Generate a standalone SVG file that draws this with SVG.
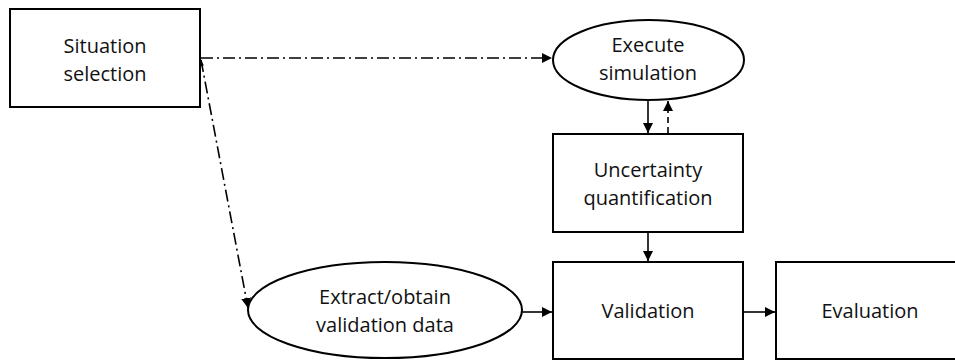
<svg xmlns="http://www.w3.org/2000/svg" width="955" height="361" viewBox="0 0 955 361">
<style>
.box{fill:#fff;stroke:#000;stroke-width:2}
.t{font-family:"Open Sans","Liberation Sans",sans-serif;font-size:20px;fill:#111;text-anchor:middle}
.c{fill:none;stroke:#000;stroke-width:1.6}
.dd{stroke-dasharray:12 4 2 4}
.ds{stroke-dasharray:6 4}
</style>
<defs>
<marker id="ah" viewBox="0 0 10 10" refX="10" refY="5" markerWidth="10" markerHeight="10" markerUnits="userSpaceOnUse" orient="auto">
<path d="M0,0 L10,5 L0,10 Z" fill="#000"/>
</marker>
<marker id="ahs" viewBox="0 0 10 10" refX="10" refY="5" markerWidth="12" markerHeight="6" markerUnits="userSpaceOnUse" orient="auto-start-reverse">
<path d="M0,2 L10,5 L0,8 Z" fill="#000"/>
</marker>
</defs>
<rect width="955" height="361" fill="#fff"/>
<g id="connectors">
<line class="c dd" x1="201" y1="58" x2="552" y2="58" marker-end="url(#ah)"/>
<line class="c dd" x1="201" y1="60" x2="248" y2="308" marker-end="url(#ah)" marker-start="url(#ahs)"/>
<line class="c" x1="648" y1="100" x2="648" y2="133" marker-end="url(#ah)"/>
<line class="c ds" x1="668" y1="133" x2="668" y2="101" marker-end="url(#ah)"/>
<line class="c" x1="648" y1="232" x2="648" y2="261" marker-end="url(#ah)"/>
<line class="c" x1="522" y1="312" x2="552" y2="312" marker-end="url(#ah)"/>
<line class="c" x1="743" y1="312" x2="775" y2="312" marker-end="url(#ah)"/>
</g>
<g id="situation">
<rect class="box" x="10" y="9" width="190" height="98"/>
<text class="t" x="105" y="53">Situation</text>
<text class="t" x="105" y="81">selection</text>
</g>
<g id="execute">
<ellipse class="box" cx="648.5" cy="60" rx="95.5" ry="40"/>
<text class="t" x="648" y="52">Execute</text>
<text class="t" x="648" y="80">simulation</text>
</g>
<g id="uncertainty">
<rect class="box" x="553" y="134" width="190" height="98"/>
<text class="t" x="648" y="177">Uncertainty</text>
<text class="t" x="648" y="205">quantification</text>
</g>
<g id="extract">
<ellipse class="box" cx="385" cy="310" rx="137" ry="48"/>
<text class="t" x="385" y="304">Extract/obtain</text>
<text class="t" x="385" y="332">validation data</text>
</g>
<g id="validation">
<rect class="box" x="553" y="262" width="190" height="97"/>
<text class="t" x="648" y="318">Validation</text>
</g>
<g id="evaluation">
<rect class="box" x="776" y="262" width="190" height="97"/>
<text class="t" x="870" y="318">Evaluation</text>
</g>
</svg>
